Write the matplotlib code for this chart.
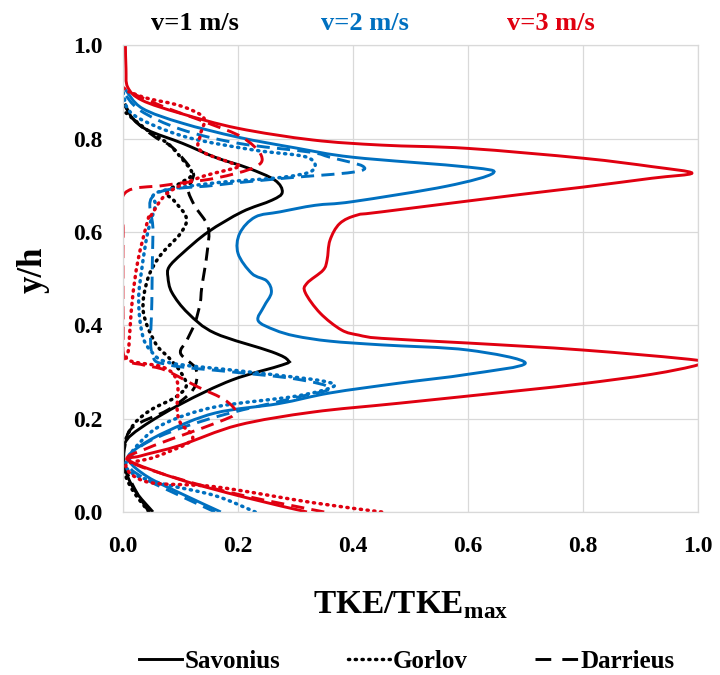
import matplotlib
matplotlib.use("Agg")
import matplotlib.pyplot as plt
import numpy as np
from matplotlib.lines import Line2D
from matplotlib.patches import PathPatch
from matplotlib.path import Path

plt.rcParams["font.family"] = ["Liberation Serif", "DejaVu Serif"]
plt.rcParams["font.weight"] = "bold"
plt.rcParams["mathtext.fontset"] = "custom"
plt.rcParams["mathtext.rm"] = "Liberation Serif:bold"
plt.rcParams["mathtext.bf"] = "Liberation Serif:bold"

BLACK = "#000000"
BLUE = "#0070C0"
RED = "#E00010"

# ---- v = 1 m/s ----
sav1_x = [0.052, 0.02, 0.003, 0.003, 0.033, 0.103, 0.19, 0.277, 0.287, 0.259, 0.16, 0.113,
          0.085, 0.078, 0.08, 0.103, 0.148, 0.207, 0.259, 0.277, 0.264, 0.217, 0.16, 0.103,
          0.043, 0.016, 0.003]
sav1_y = [0.0, 0.047, 0.096, 0.147, 0.182, 0.233, 0.283, 0.315, 0.325, 0.343, 0.383, 0.426,
          0.47, 0.503, 0.525, 0.554, 0.6, 0.643, 0.668, 0.685, 0.711, 0.737, 0.76, 0.79,
          0.818, 0.844, 0.875]
gor1_x = [0.045, 0.02, 0.005, 0.0, 0.003, 0.02, 0.05, 0.09, 0.11, 0.10, 0.08, 0.056, 0.035,
          0.043, 0.065, 0.10, 0.11, 0.09, 0.075, 0.10, 0.12, 0.10, 0.077, 0.042, 0.005]
gor1_y = [0.0, 0.04, 0.075, 0.11, 0.15, 0.19, 0.22, 0.245, 0.27, 0.30, 0.33, 0.362, 0.43,
          0.5, 0.55, 0.597, 0.63, 0.665, 0.685, 0.705, 0.725, 0.76, 0.79, 0.818, 0.855]
dar1_x = [0.045, 0.02, 0.003, 0.003, 0.017, 0.077, 0.117, 0.128, 0.125, 0.10, 0.111, 0.125,
          0.134, 0.137, 0.146, 0.148, 0.125, 0.113, 0.12, 0.12, 0.085, 0.056, 0.02, 0.003]
dar1_y = [0.0, 0.05, 0.1, 0.14, 0.182, 0.218, 0.255, 0.283, 0.31, 0.34, 0.368, 0.405,
          0.447, 0.482, 0.554, 0.61, 0.655, 0.69, 0.711, 0.732, 0.782, 0.803, 0.839, 0.87]

# ---- v = 2 m/s ----
sav2_x = [0.17, 0.10, 0.043, 0.01, 0.02, 0.073, 0.16, 0.27, 0.36, 0.48, 0.60, 0.70, 0.60,
          0.45, 0.36, 0.30, 0.264, 0.235, 0.245, 0.258, 0.25, 0.224, 0.2, 0.203, 0.23, 0.273,
          0.334, 0.40, 0.563, 0.644, 0.60, 0.40, 0.30, 0.20, 0.103, 0.033, 0.004]
sav2_y = [0.0, 0.04, 0.075, 0.11, 0.133, 0.171, 0.212, 0.232, 0.255, 0.276, 0.295, 0.319,
          0.347, 0.358, 0.366, 0.377, 0.39, 0.41, 0.44, 0.47, 0.495, 0.511, 0.554, 0.597,
          0.632, 0.643, 0.657, 0.665, 0.698, 0.726, 0.739, 0.76, 0.78, 0.803, 0.833, 0.865,
          0.905]
gor2_x = [0.23, 0.16, 0.07, 0.02, 0.005, 0.03, 0.073, 0.16, 0.30, 0.365, 0.35, 0.27, 0.19,
          0.08, 0.047, 0.033, 0.027, 0.033, 0.043, 0.056, 0.06, 0.16, 0.277, 0.33, 0.32,
          0.23, 0.12, 0.05, 0.01, 0.0]
gor2_y = [0.0, 0.035, 0.06, 0.08, 0.105, 0.15, 0.19, 0.225, 0.248, 0.268, 0.28, 0.293,
          0.304, 0.32, 0.347, 0.383, 0.454, 0.525, 0.6, 0.655, 0.685, 0.705, 0.717, 0.732,
          0.76, 0.775, 0.80, 0.83, 0.86, 0.9]
dar2_x = [0.16, 0.09, 0.04, 0.01, 0.03, 0.09, 0.18, 0.30, 0.36, 0.30, 0.19, 0.08, 0.05,
          0.05, 0.052, 0.055, 0.16, 0.28, 0.40, 0.417, 0.36, 0.325, 0.2, 0.1, 0.03, 0.0]
dar2_y = [0.0, 0.04, 0.07, 0.1, 0.14, 0.175, 0.21, 0.245, 0.265, 0.285, 0.30, 0.315, 0.34,
          0.45, 0.6, 0.68, 0.70, 0.715, 0.728, 0.741, 0.76, 0.771, 0.79, 0.82, 0.86, 0.9]

# ---- v = 3 m/s ----
sav3_x = [0.32, 0.21, 0.10, 0.01, 0.03, 0.10, 0.20, 0.33, 0.48, 0.69, 0.80, 0.92, 1.0, 1.0,
          0.80, 0.60, 0.45, 0.41, 0.38, 0.343, 0.317, 0.32, 0.348, 0.355, 0.36, 0.377,
          0.407, 0.45, 0.69, 0.80, 0.92, 0.99, 0.92, 0.80, 0.60, 0.45, 0.33, 0.20, 0.10,
          0.033, 0.008, 0.005, 0.004]
sav3_y = [0.0, 0.032, 0.069, 0.11, 0.12, 0.143, 0.186, 0.214, 0.233, 0.26, 0.275, 0.295,
          0.315, 0.325, 0.347, 0.362, 0.372, 0.379, 0.39, 0.426, 0.47, 0.49, 0.518, 0.54,
          0.582, 0.618, 0.636, 0.643, 0.68, 0.696, 0.715, 0.726, 0.74, 0.758, 0.779, 0.786,
          0.797, 0.822, 0.854, 0.882, 0.91, 0.95, 1.0]
gor3_x = [0.45, 0.33, 0.16, 0.043, 0.005, 0.056, 0.12, 0.10, 0.094, 0.094, 0.07, 0.01,
          0.01, 0.016, 0.026, 0.043, 0.047, 0.077, 0.134, 0.20, 0.19, 0.134, 0.135, 0.14,
          0.10, 0.043, 0.01]
gor3_y = [0.0, 0.02, 0.054, 0.064, 0.1, 0.118, 0.155, 0.19, 0.22, 0.28, 0.31, 0.325,
          0.354, 0.454, 0.54, 0.625, 0.632, 0.683, 0.717, 0.739, 0.747, 0.775, 0.81, 0.845,
          0.87, 0.886, 0.9]
dar3_x = [0.35, 0.21, 0.10, 0.01, 0.043, 0.16, 0.195, 0.177, 0.13, 0.073, 0.035, 0.003,
          0.0, 0.0, 0.003, 0.073, 0.16, 0.23, 0.24, 0.207, 0.148, 0.073, 0.016, 0.0]
dar3_y = [0.0, 0.035, 0.07, 0.11, 0.137, 0.19, 0.212, 0.24, 0.268, 0.304, 0.315, 0.33,
          0.4, 0.6, 0.683, 0.70, 0.715, 0.739, 0.765, 0.803, 0.833, 0.867, 0.897, 0.91]

speed_labels = ["v=1 m/s", "v=2 m/s", "v=3 m/s"]
turbines = ["Savonius", "Gorlov", "Darrieus"]

LW = 2.1
DOT = (0, (0.35, 1.6))
DASH = (0, (4.5, 2.5))
STYLES = {
    "solid": dict(linestyle="-", lw=LW),
    "dot": dict(linestyle=DOT, capstyle="round", lw=2.5),
    "dash": dict(linestyle=DASH, capstyle="butt", lw=LW),
}

series = [
    (sav1_x, sav1_y, BLACK, "solid"), (gor1_x, gor1_y, BLACK, "dot"), (dar1_x, dar1_y, BLACK, "dash"),
    (sav2_x, sav2_y, BLUE, "solid"), (gor2_x, gor2_y, BLUE, "dot"), (dar2_x, dar2_y, BLUE, "dash"),
    (sav3_x, sav3_y, RED, "solid"), (gor3_x, gor3_y, RED, "dot"), (dar3_x, dar3_y, RED, "dash"),
]


def smooth_path(x, y):
    # Excel-like "smoothed line": Catmull-Rom segments as cubic Beziers
    p = np.column_stack([x, y]).astype(float)
    verts = [p[0]]
    codes = [Path.MOVETO]
    n = len(p)
    for i in range(n - 1):
        p0 = p[i - 1] if i > 0 else p[i]
        p1, p2 = p[i], p[i + 1]
        p3 = p[i + 2] if i + 2 < n else p[i + 1]
        c1 = p1 + (p2 - p0) / 6.0
        c2 = p2 - (p3 - p1) / 6.0
        verts += [c1, c2, p2]
        codes += [Path.CURVE4] * 3
    return Path(verts, codes)


fig = plt.figure(figsize=(7.2, 6.75), dpi=100)
ax = fig.add_axes([0.171, 0.2415, 0.798, 0.6915])

for x, y, c, st in series:
    patch = PathPatch(smooth_path(x, y), fill=False, edgecolor=c, **STYLES[st])
    ax.add_patch(patch)

ax.set_xlim(0, 1)
ax.set_ylim(0, 1)
ticks = [0.0, 0.2, 0.4, 0.6, 0.8, 1.0]
ax.set_xticks(ticks, [f"{t:.1f}" for t in ticks])
ax.set_yticks(ticks, [f"{t:.1f}" for t in ticks])
ax.tick_params(length=0, labelsize=17)
ax.tick_params(axis="x", pad=17)
ax.tick_params(axis="y", pad=15)
for lab in ax.get_xticklabels() + ax.get_yticklabels():
    lab.set_fontweight("bold")
ax.grid(True, color="#d9d9d9", lw=0.9)
ax.set_axisbelow(True)
for s in ax.spines.values():
    s.set_color("#d9d9d9")
    s.set_linewidth(0.9)

fig.text(0.046, 0.6, "y/h", rotation=90, ha="center", va="center",
         fontsize=25, fontweight="bold")
fig.text(0.57, 0.103, r"TKE/TKE$_{\mathrm{max}}$", ha="center", va="center",
         fontsize=24, fontweight="bold")

for lab, c, xc in zip(speed_labels, [BLACK, BLUE, RED], [0.271, 0.507, 0.765]):
    fig.text(xc, 0.965, lab, color=c, ha="center", va="center", fontsize=19,
             fontweight="bold")

handles = [
    Line2D([], [], color=BLACK, lw=LW, ls="-"),
    Line2D([], [], color=BLACK, lw=2.5, ls=DOT, dash_capstyle="round"),
    Line2D([], [], color=BLACK, lw=LW, ls=(0, (5.4, 3.8))),
]
fig.legend(handles, turbines, loc="center", bbox_to_anchor=(0.565, 0.02), ncol=3,
           frameon=False, handlelength=1.7, handletextpad=0.1,
           columnspacing=2.7, prop={"weight": "bold", "size": 18})

fig.savefig("out.png", dpi=100)
